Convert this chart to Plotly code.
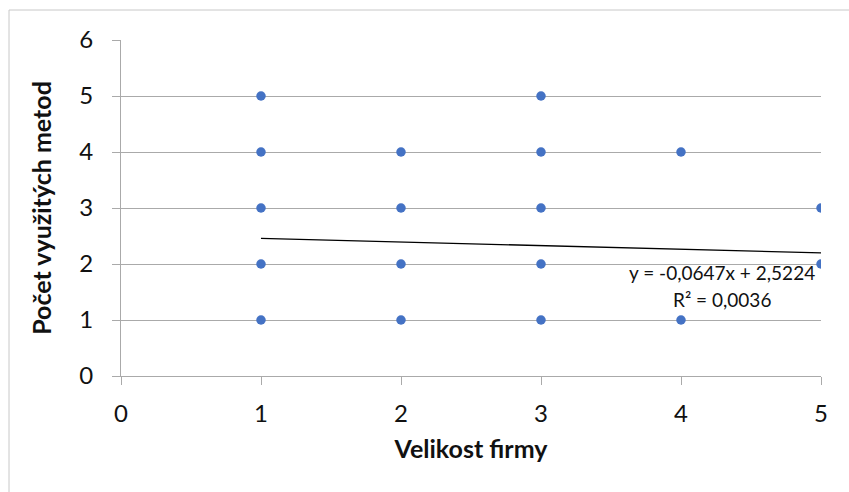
import plotly.graph_objects as go

# Data
x_vals = [1, 1, 1, 1, 1, 2, 2, 2, 2, 3, 3, 3, 3, 3, 4, 4, 5, 5]
y_vals = [1, 2, 3, 4, 5, 1, 2, 3, 4, 1, 2, 3, 4, 5, 1, 4, 2, 3]
slope = -0.0647
intercept = 2.5224
r2 = 0.0036
trend_x = [1, 5]
trend_y = [intercept + slope * v for v in trend_x]
x_title = "Velikost firmy"
y_title = "Počet využitých metod"
eq_text = "y = -0,0647x + 2,5224"
r2_text = "R² = 0,0036"

FONT = "Lato"
W, H = 849, 492
L, R, T, B = 121, 28, 40, 116
pw, ph = W - L - R, H - T - B

fig = go.Figure()
fig.add_trace(go.Scatter(x=trend_x, y=trend_y, mode="lines",
                         line=dict(color="black", width=1.3), hoverinfo="skip"))
fig.add_trace(go.Scatter(x=x_vals, y=y_vals, mode="markers",
                         marker=dict(color="#4472C4", size=9.5)))

fig.add_annotation(x=4.29, y=1.84, xref="x", yref="y", text=eq_text, showarrow=False,
                   font=dict(family=FONT, size=19, color="#111"), xanchor="center", yanchor="middle")
fig.add_annotation(x=4.29, y=1.36, xref="x", yref="y", text=r2_text, showarrow=False,
                   font=dict(family=FONT, size=19, color="#111"), xanchor="center", yanchor="middle")

# outer chart border
fig.add_shape(type="rect", xref="paper", yref="paper",
              x0=(9 - L) / pw, x1=(W + 5 - L) / pw,
              y0=-(H + 5 - T - ph) / ph, y1=1 + (T - 10) / ph,
              line=dict(color="#c8c8c8", width=1), layer="below")

grid = "#aaaaaa"
fig.update_layout(
    width=W, height=H, margin=dict(l=L, r=R, t=T, b=B),
    paper_bgcolor="white", plot_bgcolor="white", showlegend=False,
    font=dict(family=FONT, color="#111"),
    xaxis=dict(range=[0, 5], dtick=1, tick0=0, showgrid=False, zeroline=False,
               showline=True, linecolor=grid, linewidth=1,
               ticks="outside", ticklen=8, tickcolor=grid, ticklabelstandoff=8,
               tickfont=dict(size=24, family=FONT, color="#111"),
               title=dict(text="<b>" + x_title + "</b>", font=dict(size=25, family=FONT), standoff=14)),
    yaxis=dict(range=[0, 6], dtick=1, tick0=0, showgrid=True, gridcolor=grid, gridwidth=1,
               zeroline=False, showline=True, linecolor=grid, linewidth=1,
               ticks="outside", ticklen=8, tickcolor=grid, ticklabelstandoff=14,
               tickfont=dict(size=24, family=FONT, color="#111"),
               title=dict(text="<b>" + y_title + "</b>", font=dict(size=25, family=FONT), standoff=20)),
)
fig.write_html("out.html")
